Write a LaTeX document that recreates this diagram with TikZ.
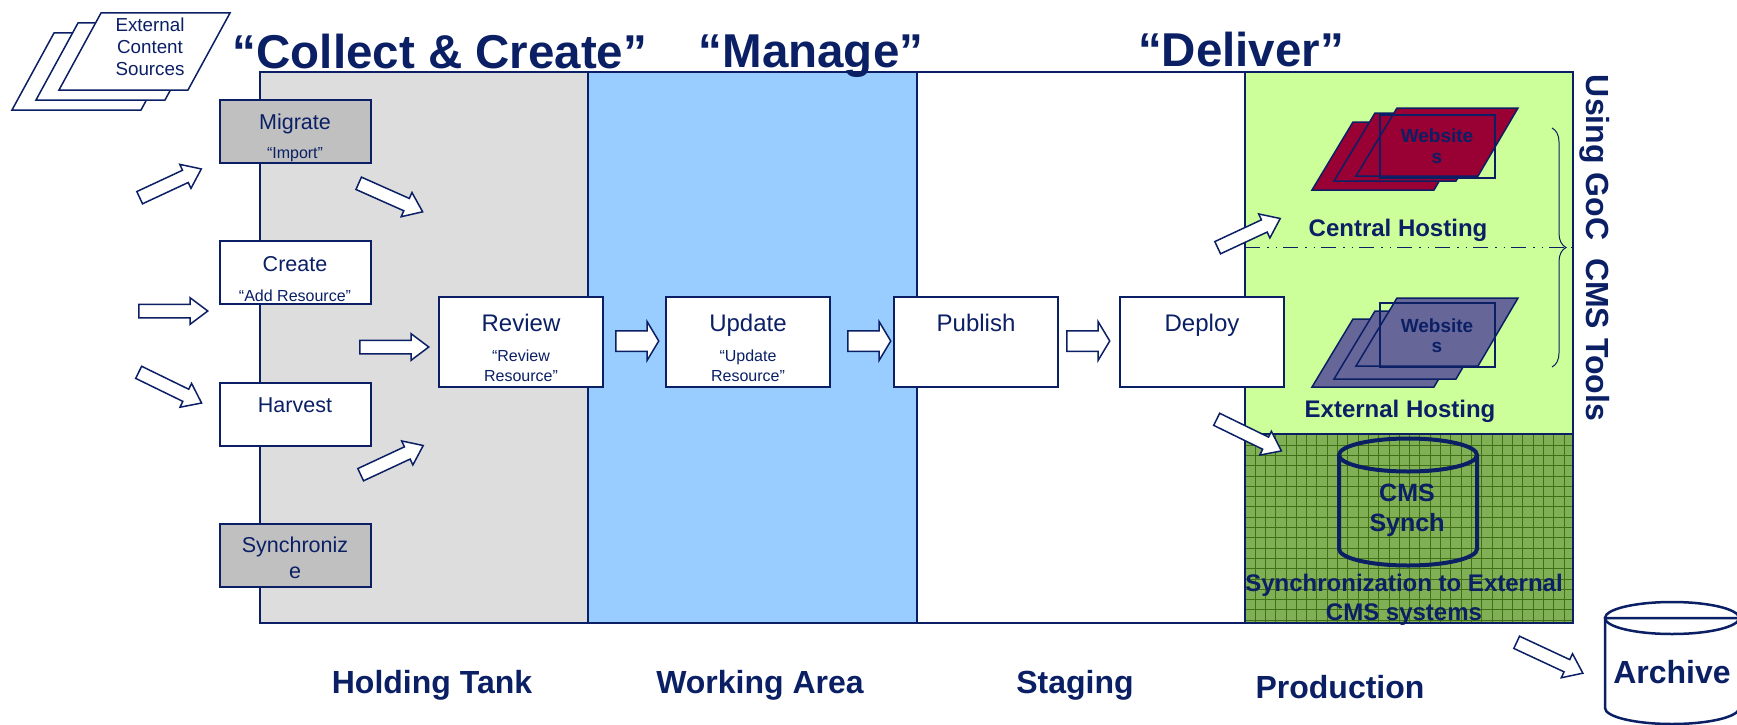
\documentclass[tikz,border=0pt]{standalone}
\usepackage{fontspec}
\setmainfont{Liberation Sans}
\usetikzlibrary{shapes.arrows,decorations.pathreplacing}

\definecolor{navy}{HTML}{0B1F65}
\definecolor{tankgray}{HTML}{DDDDDD}
\definecolor{boxgray}{HTML}{C0C0C0}
\definecolor{workblue}{HTML}{99CCFF}
\definecolor{prodgreen}{HTML}{CCFF99}
\definecolor{synchgreen}{HTML}{80B055}
\definecolor{gridgreen}{HTML}{3F7015}
\definecolor{crimson}{HTML}{990033}
\definecolor{slate}{HTML}{666699}

\newcommand{\fsize}[1]{\fontsize{#1}{#1}\selectfont}
\newcommand{\sheet}[2]{\draw[#1] (#2) -- ++(121,0) -- ++(-40,68) -- ++(-122,0) -- cycle;}
\newcommand{\source}[1]{\draw[panel,fill=white] (#1) -- ++(129,0) -- ++(-42,77) -- ++(-129,0) -- cycle;}

\begin{document}
\begin{tikzpicture}[x=1pt,y=-1pt,text=navy,node distance=141.5pt]
  \tikzset{
    panel/.style={draw=navy,line width=1.5pt},
    stepbox/.style={draw=navy,fill=white,line width=2pt,minimum width=151pt,minimum height=63pt,inner sep=0pt},
    flowbox/.style={draw=navy,fill=white,line width=2pt,minimum width=164pt,minimum height=90pt,inner sep=0pt},
    oneline/.style={inner sep=0pt,execute at begin node=\vphantom{Ag}},
    steptext/.style={oneline,font=\fsize{21.5}},
    flowtext/.style={oneline,font=\fsize{24}},
    subtext/.style={font=\fsize{16},inner sep=0pt,align=center},
    heading/.style={oneline,font=\bfseries\fsize{47.5}},
    zone/.style={oneline,font=\bfseries\fsize{32}},
    hosting/.style={oneline,font=\bfseries\fsize{24}},
    synchnote/.style={font=\bfseries\fsize{24},inner sep=0pt,align=center},
    sitetext/.style={oneline,font=\bfseries\fsize{19}},
    blockarrow/.style={single arrow,draw=navy,fill=white,line width=1.5pt,inner sep=6pt,anchor=tail,
      single arrow head extend=6.5pt,single arrow tip angle=74,minimum height=#1},
    widearrow/.style={single arrow,draw=navy,fill=white,line width=1.5pt,inner sep=9.5pt,anchor=tail,
      single arrow head extend=9pt,single arrow tip angle=118,minimum height=#1}
  }
  \useasboundingbox (0,0) rectangle (1737,725);

  % zones
  \fill[tankgray] (260,72) rectangle (588,623);
  \fill[workblue] (588,72) rectangle (917,623);
  \fill[prodgreen] (1245,72) rectangle (1573,434);
  \fill[synchgreen] (1245,434) rectangle (1573,623);
  \draw[gridgreen,line width=0.7pt,xstep=10.3pt,ystep=10.3pt,shift={(-1.6,2.1)}] (1246.6,431.9) grid (1574.6,620.9);
  \draw[panel] (260,72) rectangle (1573,623);
  \draw[panel] (588,72) -- (588,623) (917,72) -- (917,623) (1245,72) -- (1245,623) (1245,434) -- (1573,434);
  \draw[navy,line width=1pt,dash pattern=on 15pt off 7pt on 1.5pt off 7pt on 1.5pt off 6pt] (1245,247) -- (1573,247);

  % headings
  \node[heading] (collect) at (440,56) {“Collect \& Create”};
  \node[heading] (manage) at (811,56) {“Manage”};
  \node[heading] (deliver) at (1241,54) {“Deliver”};
  \node[zone] (tank) at (432,685) {Holding Tank};
  \node[zone] (work) at (760,685) {Working Area};
  \node[zone] (staging) at (1075,685) {Staging};
  \node[zone] (production) at (1340,690) {Production};
  \node[zone,rotate=-90] (tools) at (1595,248) {Using GoC\ \ CMS Tools};

  % sources
  \source{54,33}
  \source{78,23}
  \source{101,13}
  \node[font=\fsize{18.8},inner sep=0pt,align=center] (sources) at (150,47) {External\\[3pt]Content\\[3pt]Sources};

  % left column
  \node[stepbox,fill=boxgray] (migrate) at (295,131) {};
  \node[stepbox] (create) [below of=migrate] {};
  \node[stepbox] (harvest) [below of=create] {};
  \node[stepbox,fill=boxgray] (synchronize) [below of=harvest] {};
  \node[steptext] (migratetext) at (295,124) {Migrate};
  \node[subtext] (importtext) at (295,155) {“Import”};
  \node[steptext] (createtext) at (295,266) {Create};
  \node[subtext] (addtext) at (295,296) {“Add Resource”};
  \node[steptext] (harvesttext) at (295,407) {Harvest};
  \node[steptext,align=center] (synchtext) at (295,560) {Synchroniz\\[4.5pt]e};

  % main row
  \node[flowbox] (review) at (521,342) {};
  \node[flowbox,node distance=227pt] (update) [right of=review] {};
  \node[flowbox,node distance=228pt] (publish) [right of=update] {};
  \node[flowbox,node distance=226pt] (deploy) [right of=publish] {};
  \node[flowtext] (reviewtext) at (521,325) {Review};
  \node[flowtext] (updatetext) at (748,325) {Update};
  \node[flowtext] (publishtext) at (976,325) {Publish};
  \node[flowtext] (deploytext) at (1202,325) {Deploy};
  \node[subtext] (reviewsub) at (521,366) {“Review\\[4pt]Resource”};
  \node[subtext] (updatesub) at (748,366) {“Update\\[4pt]Resource”};

  % arrows
  \node[blockarrow=68pt,rotate=25] (arrowa) at (139,198) {};
  \node[blockarrow=69pt] (arrowb) at (138,311) {};
  \node[blockarrow=70pt,rotate=-26] (arrowc) at (138,372) {};
  \node[blockarrow=70pt,rotate=-24] (arrowd) at (358,183) {};
  \node[blockarrow=69pt] (arrowe) at (359,347) {};
  \node[blockarrow=69pt,rotate=25] (arrowf) at (360,475) {};
  \node[widearrow=43pt] (arrowg) at (615,341) {};
  \node[widearrow=43pt] (arrowh) at (847,341) {};
  \node[widearrow=43pt] (arrowi) at (1066,341) {};
  \node[blockarrow=69pt,rotate=25] (arrowj) at (1217,248) {};
  \node[blockarrow=72pt,rotate=-26] (arrowk) at (1216,419) {};
  \node[blockarrow=73pt,rotate=-25] (arrowl) at (1516,642) {};

  % central hosting
  \sheet{panel,fill=crimson}{1353,122}
  \sheet{panel,fill=crimson}{1375,113}
  \sheet{panel,fill=crimson}{1397,108}
  \draw[panel] (1380,115) rectangle (1495,178);
  \node[sitetext] (sitea) at (1437,138) {Website};
  \node[sitetext] (siteb) at (1437,159) {s};
  \node[hosting] (central) at (1398,230) {Central Hosting};

  % external hosting
  \sheet{panel,fill=slate}{1353,319}
  \sheet{panel,fill=slate}{1375,311}
  \sheet{panel,fill=slate}{1397,298}
  \draw[panel] (1380,303) rectangle (1495,367);
  \node[sitetext] (sitec) at (1437,328) {Website};
  \node[sitetext] (sited) at (1437,348) {s};
  \node[hosting] (external) at (1400,411) {External Hosting};

  \draw[navy,line width=1pt,decorate,decoration={brace,amplitude=14pt}] (1552,128) -- (1552,367);

  % synch
  \draw[navy,line width=4pt] (1339,455) -- (1339,549) arc[start angle=180,end angle=360,x radius=69pt,y radius=16.5pt] -- (1477,455);
  \draw[navy,line width=4pt] (1408,455) ellipse[x radius=69pt,y radius=16.5pt];
  \node[synchnote,font=\bfseries\fsize{25}] (synchname) at (1407,510) {CMS\\[5pt]Synch};
  \node[synchnote] (synchinfo) at (1404,599.5) {Synchronization to External\\[5pt]CMS systems};

  % archive
  \draw[navy,line width=2.5pt,fill=white] (1605,618) -- (1605,708) arc[start angle=180,end angle=360,x radius=67pt,y radius=16pt] -- (1739,618) -- cycle;
  \draw[navy,line width=2.5pt] (1672,618) ellipse[x radius=67pt,y radius=16pt];
  \node[zone] (archivetext) at (1672,675) {Archive};
\end{tikzpicture}
\end{document}
